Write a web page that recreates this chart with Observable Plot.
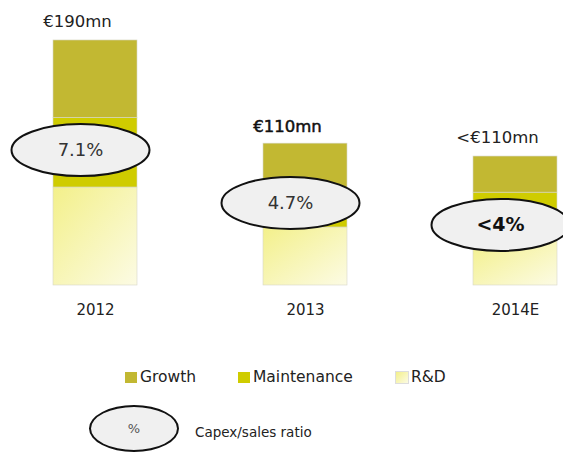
<!DOCTYPE html>
<html>
<head>
<meta charset="utf-8">
<script src="https://cdn.jsdelivr.net/npm/d3@7"></script>
<script src="https://cdn.jsdelivr.net/npm/@observablehq/plot@0.6"></script>
<style>
  html, body { margin: 0; padding: 0; background: #fff; }
  body { width: 563px; height: 452px; overflow: hidden; font-family: "DejaVu Sans", sans-serif; color: #222; }
  #legend { position: relative; width: 563px; height: 122px; }
  .sw { position: absolute; width: 12px; height: 11px; }
  .lt { position: absolute; font-size: 15.5px; line-height: 15px; }
  .ell { position: absolute; box-sizing: border-box; border: 2px solid #111; border-radius: 50%; background: #f0f0f0;
         display: flex; align-items: center; justify-content: center; font-size: 13px; color: #555; }
</style>
</head>
<body>
<div id="chart"></div>
<div id="legend"></div>
<script>
// ---- data ----
const years = ["2012", "2013", "2014E"];
const growth = [60, 58, 28];
const maintenance = [54, 7, 37];
const rnd = [76, 45, 35];
const totalLabels = ["€190mn", "€110mn", "<€110mn"];
const ratioLabels = ["7.1%", "4.7%", "<4%"];
const ratioAnchor = [105, 64, 47];
const components = ["Growth", "Maintenance", "R&D"];
const componentColors = ["#c2b832", "#cfcc00", "url(#rdgrad)"];

// ---- tables ----
const rows = [];
years.forEach((y, i) => {
  rows.push({year: y, part: "R&D", value: rnd[i]});
  rows.push({year: y, part: "Maintenance", value: maintenance[i]});
  rows.push({year: y, part: "Growth", value: growth[i]});
});
const tops = years.map((y, i) => ({year: y, total: growth[i] + maintenance[i] + rnd[i], label: totalLabels[i]}));
const ratios = years.map((y, i) => ({year: y, anchor: ratioAnchor[i], label: ratioLabels[i]}));

// ellipse symbol (ignores size)
const K = 0.5523;
const ellipse = {
  draw(ctx) {
    const rx = 69, ry = 26, kx = rx * K, ky = ry * K;
    ctx.moveTo(rx, 0);
    ctx.bezierCurveTo(rx, ky, kx, ry, 0, ry);
    ctx.bezierCurveTo(-kx, ry, -rx, ky, -rx, 0);
    ctx.bezierCurveTo(-rx, -ky, -kx, -ry, 0, -ry);
    ctx.bezierCurveTo(kx, -ry, rx, -ky, rx, 0);
    ctx.closePath();
  }
};

const chart = Plot.plot({
  width: 563,
  height: 330,
  marginTop: 0,
  marginBottom: 45,
  marginLeft: 0,
  marginRight: 0,
  style: {fontFamily: "DejaVu Sans, sans-serif", color: "#222", background: "#fff"},
  x: {domain: years, range: [52, 557], paddingInner: 0.6, paddingOuter: 0, axis: null},
  y: {domain: [0, 221], axis: null},
  color: {domain: components, range: componentColors},
  marks: [
    Plot.barY(rows, Plot.stackY({x: "year", y: "value", fill: "part", order: null, stroke: "#d6d6c8", strokeWidth: 0.6})),
    Plot.axisX({tickSize: 0, tickPadding: 19, fontSize: 15, color: "#222", label: null}),
    Plot.text(tops, {x: "year", y: "total", text: "label", dx: -18, dy: -19, fontSize: 16.5, fill: "#222",
      filter: d => d.year !== "2013"}),
    Plot.text(tops, {x: "year", y: "total", text: "label", dx: -18, dy: -17, fontSize: 16.5, fill: "#111",
      stroke: "#111", strokeWidth: 0.5, filter: d => d.year === "2013"}),
    Plot.dot(ratios, {x: "year", y: "anchor", dx: -15, symbol: ellipse, r: 10, fill: "#f0f0f0", stroke: "#111", strokeWidth: 2}),
    Plot.text(ratios, {x: "year", y: "anchor", dx: -15, text: "label", fontSize: 18, fill: "#333",
      filter: d => !d.label.startsWith("<")}),
    Plot.text(ratios, {x: "year", y: "anchor", dx: -15, text: "label", fontSize: 19, fontWeight: "bold", fill: "#111",
      filter: d => d.label.startsWith("<")})
  ]
});

// gradient for R&D
const svg = d3.select(chart);
const defs = svg.insert("defs", ":first-child");
const g = defs.append("linearGradient").attr("id", "rdgrad")
  .attr("x1", 0).attr("y1", 0).attr("x2", 1).attr("y2", 1);
g.append("stop").attr("offset", "0%").attr("stop-color", "#f3f08a");
g.append("stop").attr("offset", "100%").attr("stop-color", "#fcfbe4");
document.getElementById("chart").appendChild(chart);

// ---- legend ----
const legend = document.getElementById("legend");
const itemX = [125, 238, 396];
components.forEach((c, i) => {
  const sw = document.createElement("div");
  sw.className = "sw";
  sw.style.left = itemX[i] + "px";
  sw.style.top = "42px";
  sw.style.background = i === 2 ? "linear-gradient(135deg, #f3f08a, #fcfbe4)" : componentColors[i];
  if (i === 2) sw.style.outline = "1px solid #ddd";
  legend.appendChild(sw);
  const t = document.createElement("div");
  t.className = "lt";
  t.style.left = (itemX[i] + 15) + "px";
  t.style.top = "40px";
  t.textContent = c;
  legend.appendChild(t);
});
const e = document.createElement("div");
e.className = "ell";
e.style.left = "89px"; e.style.top = "75px";
e.style.width = "90px"; e.style.height = "47px";
e.textContent = "%";
legend.appendChild(e);
const ct = document.createElement("div");
ct.className = "lt";
ct.style.left = "195px"; ct.style.top = "95px";
ct.style.fontSize = "13.5px";
ct.textContent = "Capex/sales ratio";
legend.appendChild(ct);
</script>
</body>
</html>
